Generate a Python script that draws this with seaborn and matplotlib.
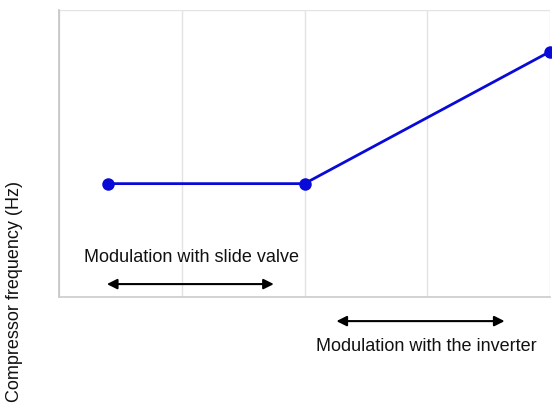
import matplotlib
matplotlib.use("Agg")
import matplotlib.pyplot as plt
import seaborn as sns
import pandas as pd

# Operating points (relative load vs compressor frequency)
load = [0.4, 2.0, 4.0]
frequency = [39.5, 39.5, 85.5]

# Annotation ranges
slide_valve_range = [0.39, 1.75]
inverter_range = [2.26, 3.63]

sns.set_style("white")
plt.rcParams['font.family'] = ['Liberation Sans', 'DejaVu Sans']

fig = plt.figure(figsize=(5.52, 4.07), dpi=100)
ax = fig.add_axes([59 / 552, 1 - 297 / 407, 491 / 552, 287 / 407])

df = pd.DataFrame({"load": load, "frequency": frequency})
sns.lineplot(data=df, x="load", y="frequency", ax=ax, color="#0a0ad8",
             linewidth=2.0, marker="o", markersize=9, markeredgewidth=0,
             clip_on=False, zorder=5)

ax.set_xlim(0, 4)
ax.set_ylim(0, 100)
ax.set_xticks([0, 1, 2, 3, 4])
ax.set_yticks([0, 100])
ax.set_xticklabels([])
ax.set_yticklabels([])
ax.set_xlabel("")
ax.set_ylabel("")
ax.grid(True, color="#e3e3e3", linewidth=1.0)
ax.tick_params(axis="x", length=4, color="#cccccc", width=1)
ax.tick_params(axis="y", length=0)

for side in ["top", "right"]:
    ax.spines[side].set_visible(False)
ax.spines["left"].set_color("#c4c4c4")
ax.spines["bottom"].set_color("#cccccc")
ax.spines["left"].set_linewidth(1.2)
ax.spines["bottom"].set_linewidth(1.2)

# slide valve arrow + label
ax.annotate("", xy=(slide_valve_range[0], 4.5), xytext=(slide_valve_range[1], 4.5),
            arrowprops=dict(arrowstyle="<|-|>", color="black", lw=1.5,
                            mutation_scale=15, shrinkA=0, shrinkB=0),
            annotation_clip=False)
ax.text(1.083, 13.6, "Modulation with slide valve",
        ha="center", va="center", fontsize=13, color="#111111")

# inverter arrow + label
ax.annotate("", xy=(inverter_range[0], -8.4), xytext=(inverter_range[1], -8.4),
            arrowprops=dict(arrowstyle="<|-|>", color="black", lw=1.5,
                            mutation_scale=15, shrinkA=0, shrinkB=0),
            annotation_clip=False)
ax.text(2.99, -17.1, "Modulation with the inverter",
        ha="center", va="center", fontsize=13, color="#111111", clip_on=False)

fig.text(15 / 552, 1 - 291 / 407, "Compressor frequency (Hz)", rotation=90,
         ha="center", va="center", fontsize=13, color="#111111")

fig.savefig("out.png", dpi=100)
